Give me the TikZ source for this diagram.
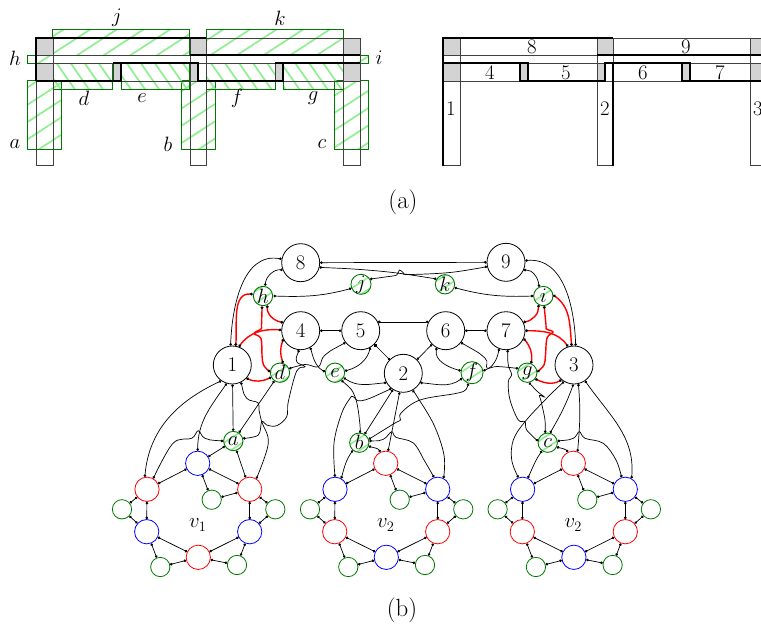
\documentclass[tikz,border=0pt]{standalone}
\usepackage{xcolor}
\usetikzlibrary{arrows.meta,patterns.meta}

\definecolor{hatchgreen}{RGB}{144,238,144}
\definecolor{edgegreen}{RGB}{0,120,0}
\definecolor{squaregray}{RGB}{211,211,211}

\tikzset{
    every node/.style={font=\fontsize{20.74}{25}\selectfont},
    hatchup/.style={draw=edgegreen, line width=0.8pt, pattern={Lines[angle=33,distance=14.5pt,line width=1.7pt]}, pattern color=hatchgreen},
    hatchdown/.style={draw=edgegreen, line width=0.8pt, pattern={Lines[angle=-55,distance=11.5pt,line width=1.7pt]}, pattern color=hatchgreen},
    thinbar/.style={draw=black!75, line width=0.9pt},
    thickbar/.style={draw=black, line width=1.7pt},
    bignode/.style={circle, draw, fill=white, line width=0.8pt, minimum size=38pt, inner sep=0pt},
    ring/.style={circle, line width=0.8pt, minimum size=24.3pt, inner sep=0pt},
    leaf/.style={circle, draw=edgegreen, line width=0.8pt, minimum size=19.3pt, inner sep=0pt},
    hatchnode/.style={circle, draw=edgegreen, line width=0.9pt, minimum size=19.3pt, inner sep=0pt, pattern={Lines[angle=33,distance=10pt,line width=1.6pt]}, pattern color=hatchgreen},
    wire/.style={line width=0.7pt, {Circle[length=2.6pt]}-{Circle[length=2.6pt]}},
    redwire/.style={wire, red, line width=1.4pt, {Circle[length=2.6pt,black]}-{Circle[length=2.6pt,black]}},
}

\begin{document}
\begin{tikzpicture}[x=1pt, y=-1pt]
    \useasboundingbox (0,0) rectangle (761,624);
    \clip (0,0) rectangle (761,624);

    % Hatched rectangles
    \foreach \xa/\ya/\xb/\yb in {52.7/29.3/189.7/55, 206.3/29.3/343.3/55, 27.3/55/53/63.3, 343.3/55/368.7/63.3, 27.3/80.7/61.7/149, 181/80.7/215.3/149, 334.7/80.7/368.7/149}
        \draw[hatchup] (\xa,\ya) rectangle (\xb,\yb);
    \foreach \xa/\xb in {53/112.7, 121/189.7, 206.3/275, 283/343.3}
        \draw[hatchdown] (\xa,63.3) rectangle (\xb,89.3);

    % Both layouts of bars
    \foreach \dx in {0,407}{
        \begin{scope}[xshift=\dx pt]
            \foreach \xa/\ya/\xb/\yb in {36/38/53/55, 190/38/206/55, 343/38/360/55, 36/63/53/81, 113/63/121/81, 190/63/198/81, 275/63/283/81, 343/63/360/81}
                \fill[squaregray] (\xa,\ya) rectangle (\xb,\yb);
            \foreach \xa/\ya/\xb/\yb in {36/38/206/55, 190/38/360/55, 36/63/121/81, 113/63/198/81, 198/63/283/81, 275/63/360/81, 36/38/53/165.7, 190/38/206/165.7, 343/38/360/165.7}
                \draw[thinbar] (\xa,\ya) rectangle (\xb,\yb);
        \end{scope}
    }

    % Thick sides, left layout
    \draw[thickbar] (36,81) -- (36,38) -- (206,38);
    \draw[thickbar] (190,55) -- (360,55);
    \draw[thickbar] (36,81) -- (121,81) -- (121,63);
    \draw[thickbar] (113,63) -- (198,63) -- (198,81) -- (283,81) -- (283,63);
    \draw[thickbar] (275,63) -- (360,63);

    % Thick sides, right layout
    \draw[thickbar] (443,165.7) -- (443,38) -- (613,38);
    \draw[thickbar] (597,55) -- (775,55);
    \draw[thickbar] (443,63) -- (528,63) -- (528,81);
    \draw[thickbar] (520,63) -- (520,81) -- (605,81) -- (605,63) -- (690,63) -- (690,81);
    \draw[thickbar] (682,63) -- (682,81) -- (775,81);
    \draw[thickbar] (613,63) -- (613,165.7);

    % Labels of the bars
    \foreach \nm/\px/\py in {j/117/18, k/280/18, h/15/58, i/379/58, d/84/98, e/142/98, f/237/98, g/313/98, a/15/144, b/168/144, c/322/144}
        \node (lab\nm) at (\px,\py) {$\nm$};
    \foreach \nm/\px/\py in {8/532/47, 9/686/47, 4/490/73, 5/566/73, 6/643/73, 7/720/73, 1/451/109, 2/605/109, 3/758/109}
        \node (lab\nm) at (\px,\py) {\nm};
    \node[font=\fontsize{24.88}{30}\selectfont] (capa) at (403,202) {(a)};
    \node[font=\fontsize{24.88}{30}\selectfont] (capb) at (402,610) {(b)};

    % Big nodes
    \foreach \nm/\px/\py in {1/232.3/365, 2/403.3/373.3, 3/574/365, 4/300.7/330.7, 5/360.7/330.7, 6/445.7/330.7, 7/506/330.7, 8/300.7/262.7, 9/506/262.3}
        \node[bignode] (n\nm) at (\px,\py) {\nm};

    % Hatched nodes
    \foreach \nm/\px/\py in {h/263/296, j/361/284.3, k/445/284.3, i/543.3/296, d/280/372.7, e/335/372.7, f/472/372.7, g/527.3/372.7, a/233.3/441, b/359.3/442.7, c/547.7/442.7}
        \node[hatchnode] (\nm) at (\px,\py) {$\nm$};

    % The three cycles
    \foreach \gid/\dx/\ca/\cb/\vlab in {p/0/blue/red/v_1, q/188/red/blue/v_2, r/375.6/red/blue/v_2}{
        \begin{scope}[xshift=\dx pt]
            \node[ring, draw=\ca] (\gid t) at (197.7,463.3) {};
            \node[ring, draw=\cb] (\gid l) at (147,489.3) {};
            \node[ring, draw=\cb] (\gid r) at (249.7,489.3) {};
            \node[ring, draw=\ca] (\gid x) at (146.7,531.7) {};
            \node[ring, draw=\ca] (\gid y) at (249.7,531.7) {};
            \node[ring, draw=\cb] (\gid b) at (198.3,557.3) {};
            \node[leaf] (\gid i) at (211.7,499.7) {};
            \node[leaf] (\gid u) at (122,509.3) {};
            \node[leaf] (\gid v) at (275.3,509.3) {};
            \node[leaf] (\gid w) at (160.3,567) {};
            \node[leaf] (\gid z) at (237,565) {};
            \node (\gid lab) at (197.7,525) {$\vlab$};
            \foreach \from/\to in {t/l, t/r, t/i, i/r, l/u, u/x, l/x, r/v, v/y, r/y, x/b, y/b, x/w, w/b, y/z, z/b}
                \draw[wire] (\gid\from) -- (\gid\to);
        \end{scope}
    }

    % Top part
    \draw[wire] (n8) -- (n9);
    \draw[wire] plot[smooth, tension=0.6] coordinates {(n8.-14) (360,269.5) (397,273) (k.148)};
    \draw[wire] plot[smooth, tension=0.6] coordinates {(j.30) (385,277) (396.7,275) (399.3,270) (403.3,272.7) (408,274.5) (450,272.5) (n9.-167)};
    \draw[wire] (n8.169) to[out=170,in=88] (n1.95);
    \draw[wire] (n9.5) to[out=5,in=92] (n3.85);
    \draw[wire] (n8.-158) to[out=175,in=85] (h.78);
    \draw[wire] (n9.-24) to[out=5,in=95] (i.115);
    \draw[wire] (h.0) to[out=-2,in=195] (j.-157);
    \draw[wire] (i.180) to[out=182,in=-15] (k.-19);

    % Red connectors
    \draw[redwire] (h.170) to[out=175,in=85] (n1.80);
    \draw[redwire] (h.-65) to[out=-95,in=170] (n4.155);
    \draw[redwire] plot[smooth, tension=0.6] coordinates {(h.-95) (261.5,325) (261,329) (254,333.5) (261,338.5) (262,355) (263.5,365) (d.175)};
    \draw[redwire] (n1.70) to[out=55,in=175] (n4.178);
    \draw[redwire] (n4.-154) to[out=-110,in=110] (d.72);
    \draw[redwire] (n1.-43) to[out=-25,in=-155] (d.-152);
    \draw[redwire] (i.5) to[out=-35,in=95] (n3.97);
    \draw[redwire] (i.-119) to[out=-85,in=10] (n7.26);
    \draw[redwire] plot[smooth, tension=0.6] coordinates {(i.-85) (546,325) (546.5,329) (553,332) (547,338) (545.5,355) (544,365) (g.5)};
    \draw[redwire] (n7.0) to[out=0,in=125] (n3.108);
    \draw[redwire] (n7.-24) to[out=-50,in=80] (g.68);
    \draw[redwire] (g.-38) to[out=-25,in=-150] (n3.-130);

    % Middle row
    \draw[wire] (n4) -- (n5);
    \draw[wire] (n6) -- (n7);
    \draw[wire] (n5.27) -- (n6.153);
    \draw[wire] (n5) -- (n2);
    \draw[wire] (n6) -- (n2);
    \draw[wire] (n4.-60) to[out=-75,in=150] (e.175);
    \draw[wire] (n5.-60) to[out=-105,in=15] (e.10);
    \draw[wire] (n6.-118) to[out=-100,in=165] (f.170);
    \draw[wire] (n7.-111) to[out=-100,in=20] (f.10);
    \draw[wire] plot[smooth, tension=0.6] coordinates {(n5.-142) (325,355) (320,365) (316,367) (305,364.5) (d.24)};
    \draw[wire] plot[smooth, tension=0.6] coordinates {(n6.-38) (485,358) (487,368) (497,366.5) (g.155)};
    \draw[wire] (e.-30) to[out=-35,in=185] (n2.-151);
    \draw[wire] (f.-150) to[out=-145,in=-5] (n2.-29);

    % Down to the first cycle
    \draw[wire] (n1.-125) to[out=205,in=85] (pl.100);
    \draw[wire] (n1.-107) to[out=235,in=90] (pt.90);
    \draw[wire] (n1) -- (a);
    \draw[wire] plot[smooth, tension=0.6] coordinates {(n1.-63) (246.7,398.3) (258,402.7) (259,410) (261.7,421.7) (268.3,443.3) (pr.58)};
    \draw[wire] (d) -- (a);
    \draw[wire] plot[smooth, tension=0.6] coordinates {(n4.-95) (296.7,361.7) (305,366.7) (296.7,371) (288.3,401.7) (286.7,416.7) (276.7,425.7) (266.7,425) (261.7,421.7) (258.3,435) (a.15)};
    \draw[wire] plot[smooth, tension=0.6] coordinates {(a.180) (205,438.3) (198.3,430.7) (191.7,438.3) (173,443.3) (pl.60)};
    \draw[wire] (a) -- (pt);
    \draw[wire] (a) -- (pr);

    % Down to the second cycle
    \draw[wire] (n2) -- (b);
    \draw[wire] (n2) -- (qt);
    \draw[wire] plot[smooth, tension=0.6] coordinates {(n2.-128) (361.7,400.7) (353.3,396.7) (350,398.3) (341.7,413.3) (334,443) (ql.90)};
    \draw[wire] plot[smooth, tension=0.6] coordinates {(n2.-62) (418,398) (434,425) (444,455) (qr.62)};
    \draw[wire] plot[smooth, tension=0.6] coordinates {(e.-50) (355,396.7) (360,425) (b.90)};
    \draw[wire] plot[smooth, tension=0.6] coordinates {(f.-110) (466,389.5) (456.7,393.3) (420,400) (401,413) (400.5,420) (395,423) (b.20)};
    \draw[wire] plot[smooth, tension=0.6] coordinates {(b.10) (383.3,439.3) (391.7,431.7) (396,437.3) (413.3,443) (425,461.7) (qr.107)};
    \draw[wire] (b.-130) to[out=235,in=75] (ql.60);
    \draw[wire] (b.-20) to[out=-20,in=125] (qt.115);

    % Down to the third cycle
    \draw[wire] (n3.-92) to[out=250,in=60] (c.76);
    \draw[wire] (n3.-77) to[out=-85,in=85] (rt.70);
    \draw[wire] (n3.-55) to[out=-55,in=85] (rr.60);
    \draw[wire] plot[smooth, tension=0.6] coordinates {(n3.-121) (546.7,398.3) (525,421.7) (513.3,440) (511.7,460) (rl.110)};
    \draw[wire] plot[smooth, tension=0.6] coordinates {(g.-80) (538,392) (544.5,397) (539.5,395.5) (541,401) (545,420) (c.105)};
    \draw[wire] plot[smooth, tension=0.6] coordinates {(n7.-85) (508.3,365) (511.7,375) (508.3,381.7) (510,400) (518.3,420) (525,421.7) (526.7,430) (c.170)};
    \draw[wire] (c.-125) to[out=235,in=65] (rl.65);
    \draw[wire] (c.-25) to[out=-20,in=130] (rt.115);
    \draw[wire] plot[smooth, tension=0.6] coordinates {(c.10) (573.3,438.3) (579.3,431.7) (585,438.3) (603.3,443.3) (616,460) (rr.107)};
\end{tikzpicture}
\end{document}
